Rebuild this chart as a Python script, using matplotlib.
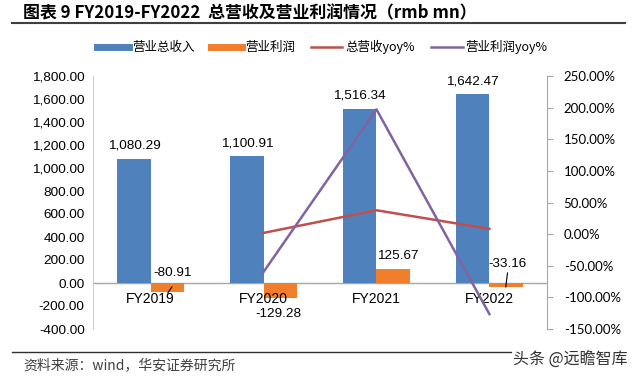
import matplotlib
matplotlib.use("Agg")
import matplotlib.pyplot as plt
from matplotlib.lines import Line2D
import numpy as np

plt.rcParams['font.family'] = ['Liberation Sans', 'Noto Sans CJK SC', 'DejaVu Sans']

categories = ["FY2019", "FY2020", "FY2021", "FY2022"]
revenue = [1080.29, 1100.91, 1516.34, 1642.47]
profit = [-80.91, -129.28, 125.67, -33.16]
rev_yoy = [None, 1.91, 37.74, 8.32]
profit_yoy = [None, -59.78, 197.21, -126.39]
left_ticks = [-400, -200, 0, 200, 400, 600, 800, 1000, 1200, 1400, 1600, 1800]
right_ticks = [-150, -100, -50, 0, 50, 100, 150, 200, 250]

C_BLUE = "#4F81BD"
C_ORANGE = "#F07E2B"
C_RED = "#C0504D"
C_PURPLE = "#8064A2"
GRAY = "#A6A6A6"
CJK = ['Noto Sans CJK SC', 'DejaVu Sans']

fig = plt.figure(figsize=(6.4, 3.77), dpi=100)
ax = fig.add_axes([93 / 640, 1 - 329 / 377, 454 / 640, 253 / 377])
ax2 = ax.twinx()

x = np.arange(len(categories))
w = 0.295
ax.bar(x - w / 2, revenue, w, color=C_BLUE, zorder=2)
ax.bar(x + w / 2, profit, w, color=C_ORANGE, zorder=2)
ax.set_xlim(-0.51, 3.51)
ax.set_ylim(-400, 1800)
ax.set_yticks(left_ticks)
ax.set_yticklabels([f"{v:,.2f}" for v in left_ticks], fontsize=9.7)
ax.tick_params(axis='y', length=0, pad=6)
ax.set_xticks([])
ax.axhline(0, color=GRAY, lw=1, zorder=1)
for s in ["top", "right", "bottom"]:
    ax.spines[s].set_visible(False)
ax.spines["left"].set_color("#D0D0D0")

# category labels near zero line
for i, c in enumerate(categories):
    ax.text(i, -139, c, ha='center', va='center', fontsize=10, zorder=5)

# revenue labels
for i, v in enumerate(revenue):
    ax.text(i - w / 2, v + 113, f"{v:,.2f}", ha='center', va='center', fontsize=9.7)

# profit labels
prof_pos = [(0.196, 87), (0.134, -270), (0.19, 235), (0.16, 165)]
for i, (v, (dx, y)) in enumerate(zip(profit, prof_pos)):
    ax.text(i + dx, y, f"{v:,.2f}", ha='center', va='center', fontsize=9.7, zorder=6)
ax.plot([0.152, 0.188], [-87, -35], color="black", lw=0.8, zorder=6)
ax.plot([3.16, 3.145], [87, -35], color="black", lw=0.8, zorder=6)

xl = [i for i, v in enumerate(rev_yoy) if v is not None]
ax2.plot(xl, [rev_yoy[i] for i in xl], color=C_RED, lw=1.8, zorder=3)
ax2.plot(xl, [profit_yoy[i] for i in xl], color=C_PURPLE, lw=1.8, zorder=3)
ax2.set_ylim(-150, 250)
ax2.set_yticks(right_ticks)
ax2.set_yticklabels([f"{v:.2f}%" for v in right_ticks], fontsize=9.5,
                    family=['Lato', 'DejaVu Sans'])
ax2.tick_params(axis='y', length=4, color=GRAY, pad=8)
for s in ["top", "left", "bottom"]:
    ax2.spines[s].set_visible(False)
ax2.spines["right"].set_color(GRAY)

# legend
handles = [
    Line2D([], [], color=C_BLUE, lw=5),
    Line2D([], [], color=C_ORANGE, lw=5),
    Line2D([], [], color=C_RED, lw=1.8),
    Line2D([], [], color=C_PURPLE, lw=1.8),
]
labels = ["营业总收入", "营业利润", "总营收yoy%", "营业利润yoy%"]
fig.legend(handles, labels, loc='center', bbox_to_anchor=(0.504, 1 - 47 / 377), ncol=4,
           frameon=False, handlelength=2.5, handletextpad=0.25, columnspacing=1.3,
           prop={'family': CJK, 'size': 9.0})

# title
fig.text(23 / 640, 1 - 13 / 377, "图表 9 FY2019-FY2022  总营收及营业利润情况（rmb mn）",
         fontsize=12.2, fontweight='bold', va='center', ha='left', family=CJK)
fig.add_artist(Line2D([12 / 640, 625 / 640], [1 - 23 / 377] * 2, color="#404040", lw=1.5))
fig.add_artist(Line2D([12 / 640, 625 / 640], [1 - 352 / 377] * 2, color="#303030", lw=1.0))
fig.text(23 / 640, 1 - 365 / 377, "资料来源：wind，华安证券研究所", fontsize=10, va='center',
         ha='left', color="#404040", family=CJK)
fig.text(628 / 640, 1 - 360 / 377, "头条 @远瞻智库", fontsize=11.5, va='center', ha='right',
         color="#333333", family=CJK,
         bbox=dict(facecolor='white', edgecolor='none', pad=1))

fig.savefig("out.png", dpi=100)
